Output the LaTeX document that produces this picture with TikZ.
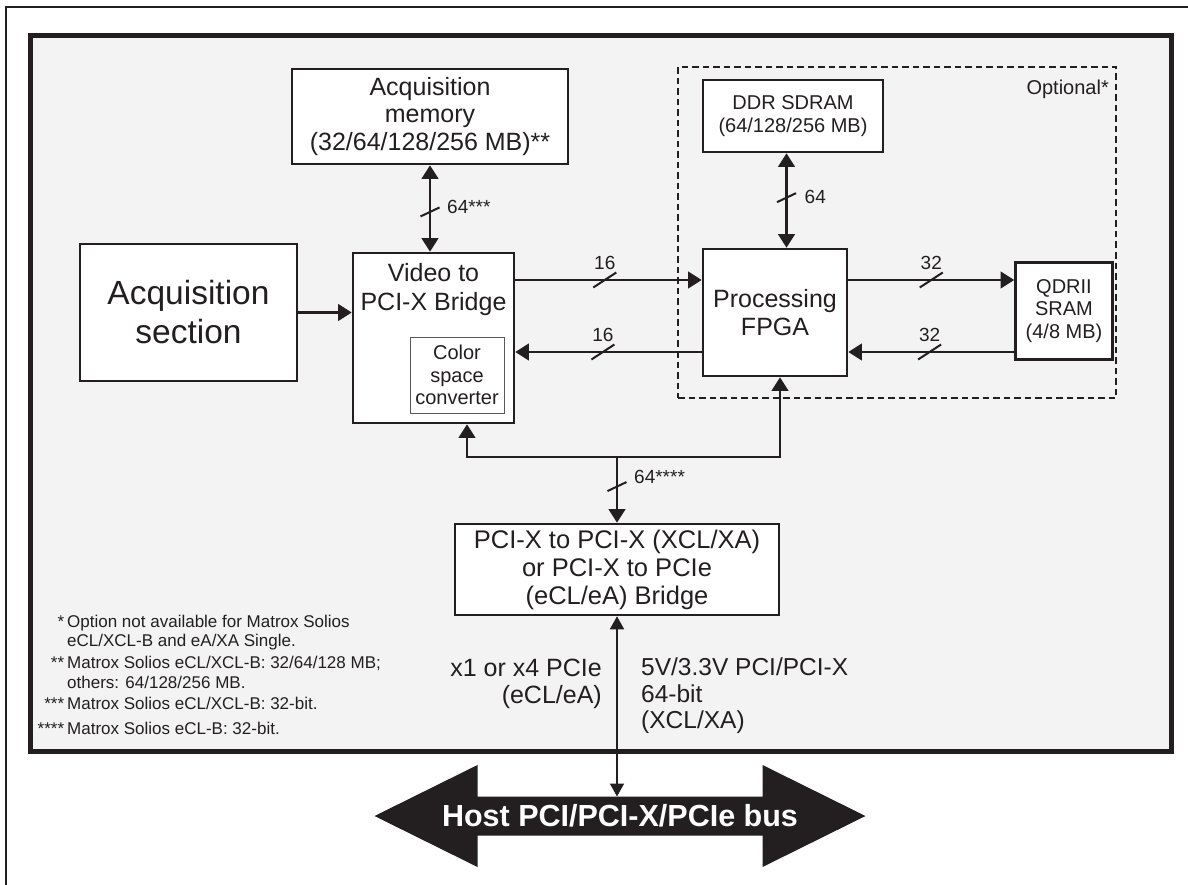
\documentclass[tikz,border=0pt]{standalone}
\usepackage{fontspec}
\setmainfont{Liberation Sans}
\usetikzlibrary{arrows.meta,calc}

\definecolor{ink}{HTML}{231F20}
\definecolor{boardgray}{HTML}{F3F3F3}

\newcommand{\fsz}[2]{\fontsize{#1}{#2}\selectfont}

\tikzset{
  blk/.style={draw=ink, line width=2.6pt, fill=white, inner sep=0pt, align=center, text=ink},
  bus/.style={draw=ink, line width=2.4pt},
  buslbl/.style={font=\fsz{19}{22}, text=ink, inner sep=0pt},
  txt/.style={text=ink, inner sep=0pt},
  hmark/.pic={\draw[ink, line width=2pt, -] (-11.5,7.5) -- (11.5,-7.5);},
  vmark/.pic={\draw[ink, line width=2pt, -] (-9.5,4.5) -- (9.5,-4.5);},
}

\begin{document}
\begin{tikzpicture}[x=1pt, y=-1pt, >={Triangle[length=13.5pt,width=16.5pt]}]
  \useasboundingbox (0,0) rectangle (1188,885);

  % page frame (top and left edges only)
  \draw[ink, line width=1.3pt] (6,885) -- (6,7) -- (1188,7);

  % board outline
  \node[draw=ink, fill=boardgray, line width=4.5pt, inner sep=0pt,
        minimum width=1141pt, minimum height=716pt] (board) at (601,393.5) {};

  % optional part, dashed
  \node[draw=ink, line width=2pt, dash pattern=on 6.5pt off 4pt, inner sep=0pt,
        minimum width=438pt, minimum height=331pt] (opt) at (897,232.5) {};
  \node[txt, anchor=north east, font=\fsz{20}{23}] (optlbl)
        at ([xshift=-8pt,yshift=-14pt]opt.north east) {Optional*};

  % blocks
  \node[blk, minimum width=276pt, minimum height=95pt, font=\fsz{25}{27.5}] (acqmem)
        at (430,116.5) {Acquisition\\memory\\(32/64/128/256 MB)**};
  \node[blk, minimum width=217pt, minimum height=137pt, font=\fsz{33.5}{39}] (acqsec)
        at (188.5,312.5) {Acquisition\\section};
  \node[blk, minimum width=161pt, minimum height=170pt] (video) at (433.5,338) {};
  \node[txt, anchor=north, align=center, font=\fsz{25}{29}] (videotxt)
        at ([yshift=-11pt]video.north) {Video to\\PCI-X Bridge};
  \node[blk, draw=ink!75, line width=1pt, minimum width=94pt, minimum height=76pt,
        font=\fsz{20}{22.5}] (csc) at (457,375) {Color\\space\\converter};
  \node[blk, minimum width=180pt, minimum height=72pt, font=\fsz{20}{23}] (ddr)
        at (793,116) {DDR SDRAM\\(64/128/256 MB)};
  \node[blk, minimum width=144pt, minimum height=127pt, font=\fsz{25}{28}] (fpga)
        at (775,312.5) {Processing\\FPGA};
  \node[blk, minimum width=97pt, minimum height=97pt, font=\fsz{20}{22.5}] (qdr)
        at (1064,311) {QDRII\\SRAM\\(4/8 MB)};
  \node[blk, minimum width=324pt, minimum height=91pt, font=\fsz{25.5}{28}] (bridge)
        at (617,569.5) {PCI-X to PCI-X (XCL/XA)\\or PCI-X to PCIe\\(eCL/eA) Bridge};

  % bus levels
  \coordinate (hi) at (0,280);
  \coordinate (lo) at (0,352);
  \coordinate (busL) at (467,457);
  \coordinate (busR) at (780,457);

  % connectors
  \draw[bus,<->] (acqmem.south) -- pic[pos=.54]{vmark}
        node[buslbl, pos=.48, right=16pt] (lblmem) {64***} (acqmem.south |- video.north);
  \draw[bus,<->] ([xshift=-6.5pt]ddr.south) -- pic[pos=.47]{vmark}
        node[buslbl, pos=.46, right=17pt] (lblddr) {64} ([xshift=-6.5pt]ddr.south |- fpga.north);
  \draw[bus,->] (acqsec.east) -- (acqsec.east -| video.west);
  \draw[bus,->] (video.east |- hi) -- pic[pos=.48]{hmark}
        node[buslbl, pos=.48, above=9.5pt] (lblvf) {16} (fpga.west |- hi);
  \draw[bus,->] (fpga.west |- lo) -- pic[pos=.53]{hmark}
        node[buslbl, pos=.53, above=9.5pt] (lblfv) {16} (video.east |- lo);
  \draw[bus,->] (fpga.east |- hi) -- pic[pos=.5]{hmark}
        node[buslbl, pos=.5, above=9.5pt] (lblfq) {32} (qdr.west |- hi);
  \draw[bus,->] (qdr.west |- lo) -- pic[pos=.51]{hmark}
        node[buslbl, pos=.51, above=9.5pt] (lblqf) {32} (fpga.east |- lo);
  \draw[bus,<->] (video.south -| busL) -- (busL) -- (busR) -- (fpga.south -| busR);
  \draw[bus,->] (bridge.north |- busL) -- pic[pos=.45]{vmark}
        node[buslbl, pos=.31, right=16pt] (lblbr) {64****} (bridge.north);

  % host bus arrow
  \fill[ink] (374.5,816) -- (477.5,765) -- (477.5,796.5) -- (762.5,796.5) -- (762.5,765)
        -- (865.5,816) -- (762.5,867) -- (762.5,835.5) -- (477.5,835.5) -- (477.5,867) -- cycle;
  \node[inner sep=0pt, text=white, font=\bfseries\fsz{30.5}{34}] (host) at (620,816)
        {Host PCI/PCI-X/PCIe bus};
  \coordinate (hosttop) at (620,796.5);
  \draw[bus, line width=1.8pt, <->, >={Triangle[length=13pt,width=14pt]}]
        (bridge.south) -- (bridge.south |- hosttop);

  % host link labels
  \node[txt, anchor=east, align=right, font=\fsz{25}{27}] (pcie) at (602,684)
        {x1 or x4 PCIe\\(eCL/eA)};
  \node[txt, anchor=west, align=left, font=\fsz{24.5}{26.5}] (pcix) at (641,696)
        {5V/3.3V PCI/PCI-X\\64-bit\\(XCL/XA)};

  % footnotes
  \node[txt, anchor=north west, align=left, font=\fsz{17}{19.5}] (notes) at (67,614.8) {%
\llap{*\hspace{3pt}}Option not available for Matrox Solios\\
eCL/XCL-B and eA/XA Single.\\[2.5pt]
\llap{**\hspace{3pt}}Matrox Solios eCL/XCL-B: 32/64/128 MB;\\
others: 64/128/256 MB.\\[1.5pt]
\llap{***\hspace{3pt}}Matrox Solios eCL/XCL-B: 32-bit.\\[5.5pt]
\llap{****\hspace{3pt}}Matrox Solios eCL-B: 32-bit.
  };
\end{tikzpicture}
\end{document}
